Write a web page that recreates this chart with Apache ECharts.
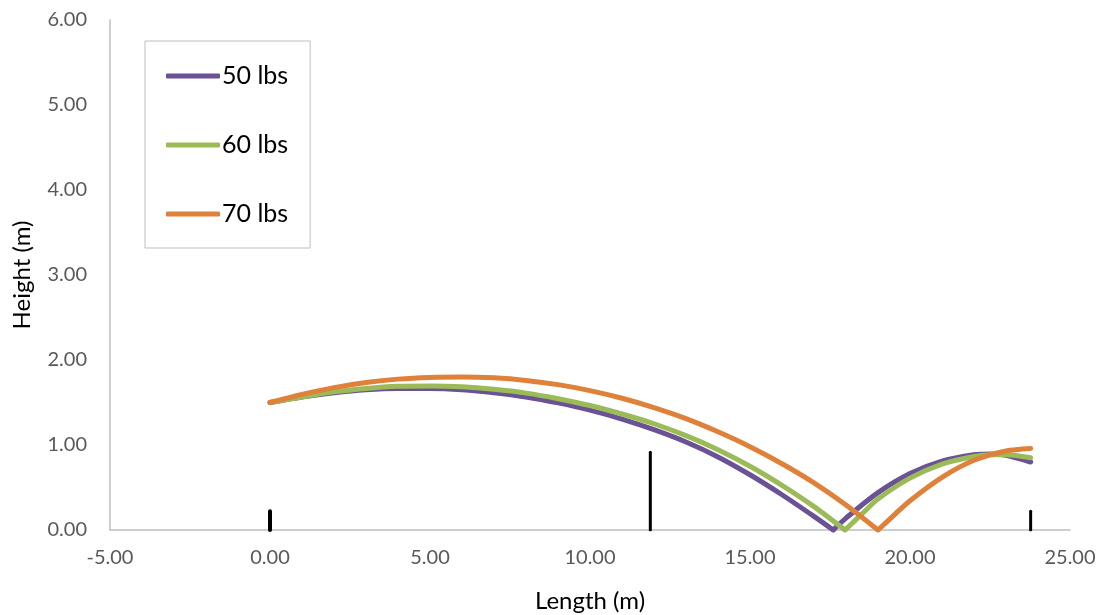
<!DOCTYPE html>
<html>
<head>
<meta charset="utf-8">
<script src="https://cdn.jsdelivr.net/npm/echarts@6/dist/echarts.min.js"></script>
<style>
html,body{margin:0;padding:0;background:#fff;}
#chart{width:1108px;height:615px;}
</style>
</head>
<body>
<div id="chart"></div>
<script>
// Series names
const seriesNames = ['50 lbs', '60 lbs', '70 lbs'];
// Ball path before bounce [length m, height m]
const path50Flight = [[0,1.50],[1,1.565],[2,1.615],[3,1.65],[4,1.665],[5,1.665],[6,1.65],[7,1.615],[8,1.565],[9,1.495],[10,1.41],[11,1.305],[12,1.18],[13,1.035],[14,0.86],[15,0.65],[16,0.415],[17,0.16],[17.6,0]];
const path60Flight = [[0,1.50],[1,1.565],[2,1.625],[3,1.665],[4,1.69],[5,1.695],[6,1.685],[7,1.655],[8,1.61],[9,1.545],[10,1.465],[11,1.365],[12,1.25],[13,1.11],[14,0.945],[15,0.75],[16,0.525],[17,0.275],[17.97,0]];
const path70Flight = [[0,1.50],[1,1.595],[2,1.675],[3,1.735],[4,1.775],[5,1.795],[6,1.80],[7,1.79],[8,1.76],[9,1.71],[10,1.64],[11,1.55],[12,1.44],[13,1.31],[14,1.155],[15,0.98],[16,0.78],[17,0.555],[18,0.295],[19,0]];
// Ball path after bounce
const path50Bounce = [[17.6,0],[18,0.14],[19,0.44],[20,0.665],[21,0.81],[22,0.885],[22.5,0.895],[23,0.88],[23.77,0.80]];
const path60Bounce = [[17.97,0],[18.5,0.19],[19,0.365],[20,0.61],[21,0.775],[22,0.865],[22.5,0.885],[23,0.885],[23.77,0.85]];
const path70Bounce = [[19,0],[19.5,0.175],[20,0.345],[21,0.62],[22,0.82],[23,0.93],[23.77,0.96]];
// Court markers: baseline, net, baseline
const postX = [0, 11.885, 23.77];
const postHeight = [0.22, 0.914, 0.22];
const postWidth = [4, 3, 3];
// Axis settings
const xMin = -5, xMax = 25, xStep = 5;
const yMin = 0, yMax = 6, yStep = 1;

const colors = ['#6B5294', '#9BBB59', '#E0813A'];
const flights = [path50Flight, path60Flight, path70Flight];
const bounces = [path50Bounce, path60Bounce, path70Bounce];
const fontFam = 'Lato, "Open Sans", sans-serif';

const series = [];
postX.forEach((x, i) => {
  series.push({
    type: 'line', name: 'post' + i, silent: true, symbol: 'none',
    data: [[x, 0], [x, postHeight[i]]],
    lineStyle: {color: '#000', width: postWidth[i], cap: 'round'},
    z: 1
  });
});
seriesNames.forEach((n, i) => {
  [flights[i], bounces[i]].forEach(d => {
    series.push({
      type: 'line', name: n, data: d, smooth: 0.3, symbol: 'none', showSymbol: false,
      color: colors[i],
      lineStyle: {color: colors[i], width: 5, cap: 'round', join: 'round'},
      z: 2 + i
    });
  });
});

const chart = echarts.init(document.getElementById('chart'), null, {renderer: 'canvas'});
chart.setOption({
  animation: false,
  backgroundColor: '#fff',
  textStyle: {fontFamily: fontFam},
  grid: {left: 110, right: 38, top: 20, bottom: 85, containLabel: false, outerBoundsMode: 'none'},
  legend: {
    data: seriesNames,
    orient: 'vertical',
    left: 145, top: 41,
    padding: [21, 22, 20, 21],
    itemGap: 41,
    itemWidth: 54, itemHeight: 5,
    icon: 'roundRect',
    borderColor: '#BFBFBF', borderWidth: 1,
    textStyle: {fontSize: 25, color: '#000', fontFamily: fontFam, lineHeight: 28, padding: [0, 0, 0, -3]}
  },
  xAxis: {
    type: 'value', min: xMin, max: xMax, interval: xStep,
    name: 'Length (m)', nameLocation: 'middle', nameGap: 59,
    nameTextStyle: {fontSize: 24, color: '#000', fontFamily: fontFam},
    axisLine: {show: true, lineStyle: {color: '#BFBFBF', width: 1.5}},
    axisTick: {show: false},
    splitLine: {show: false},
    axisLabel: {fontSize: 20, color: '#595959', margin: 18, formatter: v => v.toFixed(2)}
  },
  yAxis: {
    type: 'value', min: yMin, max: yMax, interval: yStep,
    name: 'Height (m)', nameLocation: 'middle', nameGap: 76,
    nameTextStyle: {fontSize: 24, color: '#000', fontFamily: fontFam},
    axisLine: {show: true, onZero: false, lineStyle: {color: '#BFBFBF', width: 1.5}},
    axisTick: {show: false},
    splitLine: {show: false},
    axisLabel: {fontSize: 20, color: '#595959', margin: 23, formatter: v => v.toFixed(2)}
  },
  series: series
});
</script>
</body>
</html>
